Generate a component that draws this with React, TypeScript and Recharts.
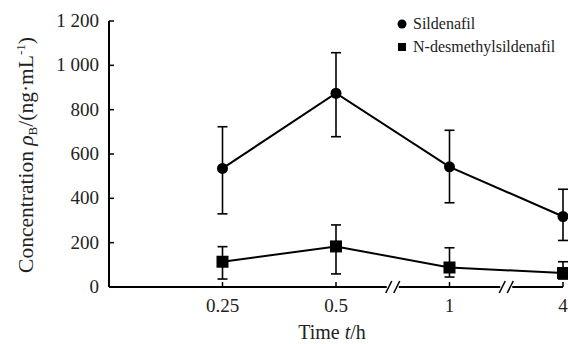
import React from 'react';
import { LineChart, Line, XAxis, YAxis, ErrorBar, ReferenceDot } from 'recharts';

const times = ['0.25', '0.5', '1', '4'];
const sildenafil = [535, 874, 542, 318];
const sildenafilErr = [[205, 188], [196, 183], [162, 165], [108, 123]];
const desmethyl = [114, 183, 88, 63];
const desmethylErr = [[78, 68], [124, 97], [43, 89], [27, 51]];
const yTicks = [0, 200, 400, 600, 800, 1000, 1200];
const breaks = [2.5, 3.5];

const FONT = '"Liberation Serif", "Times New Roman", serif';

const data = times.map((t, i) => ({
  x: i + 1,
  sil: sildenafil[i],
  silErr: sildenafilErr[i],
  des: desmethyl[i],
  desErr: desmethylErr[i],
}));

const fmtY = (v: number) => (v >= 1000 ? `${Math.floor(v / 1000)} ${String(v % 1000).padStart(3, '0')}` : String(v));

// ticks point inwards, so the tick line is drawn by hand next to the label
const XTick = (props: any) => {
  const { x, y, payload } = props;
  const axisY = y - 10;
  return (
    <g>
      <line x1={x} x2={x} y1={axisY} y2={axisY - 5} stroke="#000" strokeWidth={1.5} />
      <text x={x} y={axisY + 25} textAnchor="middle" fontSize={19} fontFamily={FONT} fill="#222">
        {times[payload.value - 1]}
      </text>
    </g>
  );
};

const YTick = (props: any) => {
  const { x, y, payload } = props;
  const axisX = x + 8;
  return (
    <g>
      <line x1={axisX} x2={axisX + 5} y1={y} y2={y} stroke="#000" strokeWidth={1.5} />
      <text x={axisX - 10} y={y + 6} textAnchor="end" fontSize={19} fontFamily={FONT} fill="#222">
        {fmtY(payload.value)}
      </text>
    </g>
  );
};

const YLabel = (props: any) => {
  const { viewBox } = props;
  const cx = viewBox.x - 16;
  const cy = viewBox.y + viewBox.height / 2 + 1;
  return (
    <text
      x={cx}
      y={cy}
      transform={`rotate(-90, ${cx}, ${cy})`}
      textAnchor="middle"
      fontSize={21.5}
      fontFamily={FONT}
      fill="#222"
    >
      <tspan>Concentration </tspan>
      <tspan fontStyle="italic">ρ</tspan>
      <tspan fontSize={13} dy={4}>B</tspan>
      <tspan dy={-4}>/(ng·mL</tspan>
      <tspan fontSize={13} dy={-8}>-1</tspan>
      <tspan dy={8}>)</tspan>
    </text>
  );
};

const XLabel = (props: any) => {
  const { viewBox } = props;
  const cx = viewBox.x + viewBox.width / 2 - 4;
  return (
    <text x={cx} y={339} textAnchor="middle" fontSize={20} fontFamily={FONT} fill="#222">
      <tspan>Time </tspan>
      <tspan fontStyle="italic">t</tspan>
      <tspan>/h</tspan>
    </text>
  );
};

const BreakMark = (props: any) => {
  const { cx, cy } = props;
  return (
    <g>
      <rect x={cx - 6} y={cy - 3} width={12} height={6} fill="#fff" />
      <line x1={cx - 7} y1={cy + 6} x2={cx - 1} y2={cy - 6} stroke="#000" strokeWidth={1.5} />
      <line x1={cx + 1} y1={cy + 6} x2={cx + 7} y2={cy - 6} stroke="#000" strokeWidth={1.5} />
    </g>
  );
};

const Square = (props: any) => {
  const { cx, cy } = props;
  if (cx == null || cy == null) return null;
  return <rect x={cx - 6} y={cy - 6} width={12} height={12} fill="#000" />;
};

export default function App() {
  return (
    <div style={{ position: 'absolute', left: 0, top: 0, width: 568, height: 344, background: '#fff' }}>
      <LineChart width={568} height={344} data={data} margin={{ top: 21, right: 5, left: 49, bottom: 27 }}>
        <XAxis
          dataKey="x"
          type="number"
          domain={[0, 4]}
          ticks={[1, 2, 3, 4]}
          height={30}
          tickSize={0}
          tickMargin={10}
          tick={XTick}
          axisLine={{ stroke: '#000', strokeWidth: 2 }}
          label={XLabel}
        />
        <YAxis
          domain={[0, 1200]}
          ticks={yTicks}
          width={60}
          tickSize={0}
          tickMargin={8}
          tick={YTick}
          axisLine={{ stroke: '#000', strokeWidth: 2 }}
          label={YLabel}
        />
        <Line
          dataKey="sil"
          stroke="#000"
          strokeWidth={2}
          dot={{ r: 5.5, fill: '#000', stroke: '#000', strokeWidth: 0 }}
          isAnimationActive={false}
        >
          <ErrorBar dataKey="silErr" direction="y" width={5} stroke="#000" strokeWidth={1.6} />
        </Line>
        <Line
          dataKey="des"
          stroke="#000"
          strokeWidth={2}
          dot={<Square />}
          isAnimationActive={false}
        >
          <ErrorBar dataKey="desErr" direction="y" width={5} stroke="#000" strokeWidth={1.6} />
        </Line>
        {breaks.map((b) => (
          <ReferenceDot key={b} x={b} y={0} r={0} shape={BreakMark} ifOverflow="visible" />
        ))}
      </LineChart>
      <div style={{ position: 'absolute', left: 397, top: 12, fontFamily: FONT, fontSize: 16, color: '#222', lineHeight: '23px' }}>
        <div style={{ display: 'flex', alignItems: 'center' }}>
          <svg width={16} height={10}><circle cx={5} cy={5} r={4.5} fill="#000" /></svg>
          <span>Sildenafil</span>
        </div>
        <div style={{ display: 'flex', alignItems: 'center' }}>
          <svg width={16} height={10}><rect x={1} y={1} width={8} height={8} fill="#000" /></svg>
          <span>N-desmethylsildenafil</span>
        </div>
      </div>
    </div>
  );
}
